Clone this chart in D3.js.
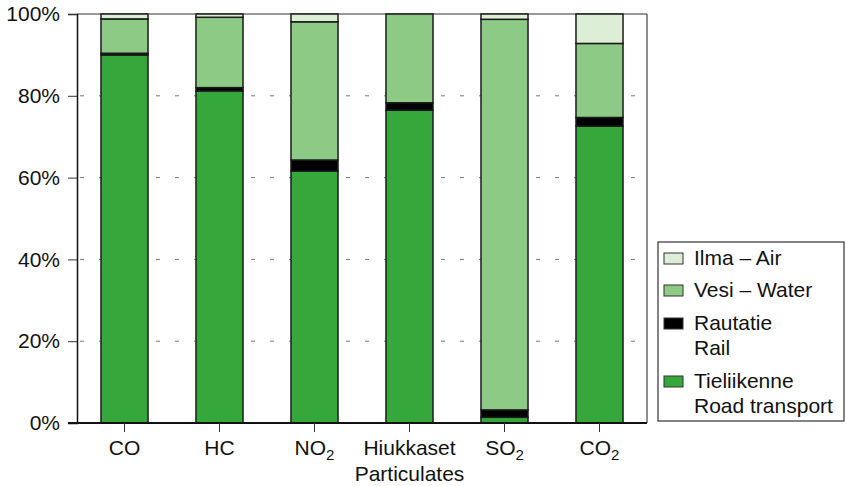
<!DOCTYPE html>
<html>
<head>
<meta charset="utf-8">
<script src="https://cdn.jsdelivr.net/npm/d3@7"></script>
<style>
  html, body { margin: 0; padding: 0; background: #fff; }
  svg { display: block; font-family: "Liberation Sans", Arial, Helvetica, sans-serif; }
</style>
</head>
<body>
<svg id="chart" width="846" height="486"></svg>
<script>
// ---- Data ----
const categories = ["CO", "HC", "NO2", "Hiukkaset", "SO2", "CO2"];
const roadTransport = [90.0, 81.2, 61.6, 76.5, 1.4, 72.6];
const rail          = [0.4, 0.8, 2.7, 1.8, 1.8, 2.1];
const water         = [8.4, 17.2, 33.8, 21.7, 95.5, 18.1];
const air           = [1.2, 0.8, 1.9, 0.0, 1.3, 7.2];
const yTicks = [0, 20, 40, 60, 80, 100];
const seriesKeys = ["road", "rail", "water", "air"];
const legendLabels = [
  ["Ilma \u2013 Air"],
  ["Vesi \u2013 Water"],
  ["Rautatie", "Rail"],
  ["Tieliikenne", "Road transport"]
];
const colors = { road: "#36a83b", rail: "#000000", water: "#8dca86", air: "#dcefd6" };

// ---- Layout ----
const svg = d3.select("#chart");
const pLeft = 77, pRight = 647, pTop = 14, pBottom = 423;

const x = d3.scaleBand().domain(categories).range([pLeft, pRight]).paddingInner(0.505).paddingOuter(0.2525);
const y = d3.scaleLinear().domain([0, 100]).range([pBottom, pTop]);

const table = categories.map((c, i) => ({
  cat: c, road: roadTransport[i], rail: rail[i], water: water[i], air: air[i]
}));
const stacked = d3.stack().keys(seriesKeys)(table);

// dashed gridlines
svg.append("g").selectAll("line")
  .data(yTicks.filter(t => t > 0 && t < 100))
  .join("line")
  .attr("x1", pLeft + 3).attr("x2", pRight)
  .attr("y1", d => y(d)).attr("y2", d => y(d))
  .attr("stroke", "#777").attr("stroke-width", 1)
  .attr("stroke-dasharray", "4,15");

// frame top and right
svg.append("line").attr("x1", pLeft).attr("x2", pRight).attr("y1", pTop).attr("y2", pTop)
  .attr("stroke", "#333").attr("stroke-width", 1.2);
svg.append("line").attr("x1", pRight).attr("x2", pRight).attr("y1", pTop).attr("y2", pBottom)
  .attr("stroke", "#444").attr("stroke-width", 1.2);

// bars
const layers = svg.append("g").selectAll("g")
  .data(stacked)
  .join("g")
  .attr("fill", d => colors[d.key]);
layers.selectAll("rect")
  .data(d => d.filter(s => s[1] - s[0] > 0))
  .join("rect")
  .attr("x", d => x(d.data.cat))
  .attr("width", x.bandwidth())
  .attr("y", d => y(d[1]))
  .attr("height", d => y(d[0]) - y(d[1]))
  .attr("stroke", "#1a1a1a")
  .attr("stroke-width", 1.5);

// y axis
const yAxis = svg.append("g").attr("transform", `translate(${pLeft},0)`)
  .call(d3.axisLeft(y).tickValues(yTicks).tickFormat(d => d + "%").tickSize(9).tickPadding(8));
yAxis.select(".domain").attr("stroke", "#111").attr("stroke-width", 1.5);
yAxis.selectAll(".tick line").attr("stroke", "#333");
yAxis.selectAll(".tick text").attr("font-size", 21).attr("fill", "#111")
  .attr("font-family", "Liberation Sans, Arial, sans-serif");

// x axis
const xAxis = svg.append("g").attr("transform", `translate(0,${pBottom})`)
  .call(d3.axisBottom(x).tickSize(9).tickSizeOuter(0).tickPadding(10).tickFormat(""));
xAxis.select(".domain").attr("stroke", "#111").attr("stroke-width", 2)
  .attr("d", `M${pLeft - 9},0H${pRight}`);
xAxis.selectAll(".tick line").attr("stroke", "#333");

const labelG = svg.append("g").attr("font-size", 21).attr("fill", "#111").attr("text-anchor", "middle");
categories.forEach(c => {
  const t = labelG.append("text").attr("x", x(c) + x.bandwidth() / 2).attr("y", 455);
  const m = c.match(/^([A-Z]+)2$/);
  if (m) {
    t.append("tspan").text(m[1]);
    t.append("tspan").attr("font-size", 15).attr("dy", 5).text("2");
  } else {
    t.text(c);
  }
});
labelG.append("text").attr("x", x("Hiukkaset") + x.bandwidth() / 2).attr("y", 481).text("Particulates");

// legend
const lg = svg.append("g");
lg.append("rect").attr("x", 658).attr("y", 242).attr("width", 186).attr("height", 179)
  .attr("fill", "#fff").attr("stroke", "#333").attr("stroke-width", 1.2);
const legendKeys = ["air", "water", "rail", "road"];
const baselines = [265, 297, 330, 388];
legendKeys.forEach((k, i) => {
  lg.append("rect").attr("x", 664).attr("y", baselines[i] - 12).attr("width", 19).attr("height", 11)
    .attr("fill", colors[k]).attr("stroke", "#333").attr("stroke-width", 1);
  legendLabels[i].forEach((line, j) => {
    lg.append("text").attr("x", 694).attr("y", baselines[i] + j * 25)
      .attr("font-size", 21).attr("fill", "#111").text(line);
  });
});
</script>
</body>
</html>
